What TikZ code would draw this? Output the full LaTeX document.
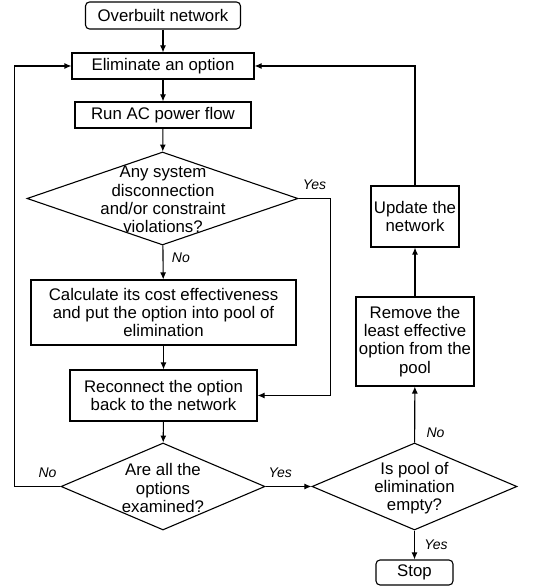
\documentclass[tikz,border=0pt]{standalone}
\usepackage{fontspec}
\setmainfont{Liberation Sans}
\usetikzlibrary{shapes.geometric,arrows.meta}
\begin{document}
\begin{tikzpicture}[x=1pt,y=1pt,>={Latex[length=7pt,width=6pt]},line width=1.1pt,
  every node/.style={font=\fontsize{16.8}{18.3}\selectfont},
  stepbox/.style={draw,align=center,inner sep=0pt},
  endbox/.style={draw,rounded corners=4pt,inner sep=0pt},
  decision/.style={draw,diamond,inner sep=0pt},
  answer/.style={font=\fontsize{14}{16}\selectfont\itshape}]
\useasboundingbox (0,0) rectangle (538,587);
\node[endbox,minimum width=155pt,minimum height=27pt] (start) at (163,571.5) {Overbuilt network};
\node[stepbox,minimum width=182pt,minimum height=26pt] (elim) at (163,521) {Eliminate an option};
\node[stepbox,minimum width=176pt,minimum height=26pt] (acflow) at (163,472) {Run AC power flow};
\node[decision,minimum width=271pt,minimum height=93pt] (check) at (162.5,388.5) {};
\node[align=center] (checktext) at (163,387.5) {Any system\\disconnection\\and/or constraint\\violations?};
\node[stepbox,minimum width=265pt,minimum height=65pt] (pool) at (163.5,274.5) {Calculate its cost effectiveness\\and put the option into pool of\\elimination};
\node[stepbox,minimum width=187pt,minimum height=51pt] (reconnect) at (163.5,191.5) {Reconnect the option\\back to the network};
\node[decision,minimum width=204pt,minimum height=87pt] (examined) at (163,100.5) {};
\node[align=center] (examinedtext) at (163,99) {Are all the\\options\\examined?};
\node[decision,minimum width=205pt,minimum height=87pt] (empty) at (414.5,100.5) {};
\node[align=center] (emptytext) at (414.5,99) {Is pool of\\elimination\\empty?};
\node[endbox,minimum width=77pt,minimum height=25pt] (stop) at (414.5,14.5) {Stop};
\node[stepbox,minimum width=118pt,minimum height=89pt] (remove) at (415,245.5) {Remove the\\least effective\\option from the\\pool};
\node[stepbox,minimum width=88pt,minimum height=61pt] (update) at (415,370.5) {Update the\\network};

\draw[->] (start) -- (elim);
\draw[->] (elim) -- (acflow);
\draw[->] (acflow) -- (check);
\draw[->] (check) -- node[answer,right=5pt,pos=0.35] {No} (pool);
\draw[->] (check.east) -- node[answer,above=5pt] {Yes} ++(32,0) |- (reconnect.east);
\draw[->] (pool) -- (reconnect);
\draw[->] (reconnect) -- (examined);
\draw[->] (examined.west) -- node[answer,above=5pt,pos=0.28] {No} ++(-46,0) |- (elim.west);
\draw[->] (examined) -- node[answer,above=5pt,pos=0.32] {Yes} (empty);
\draw[->] (empty) -- node[answer,right=6pt] {Yes} (stop);
\draw[->] (empty) -- node[answer,right=8pt,pos=0.18] {No} (remove);
\draw[->] (remove) -- (update);
\draw[->] (update) |- (elim);
\end{tikzpicture}
\end{document}
